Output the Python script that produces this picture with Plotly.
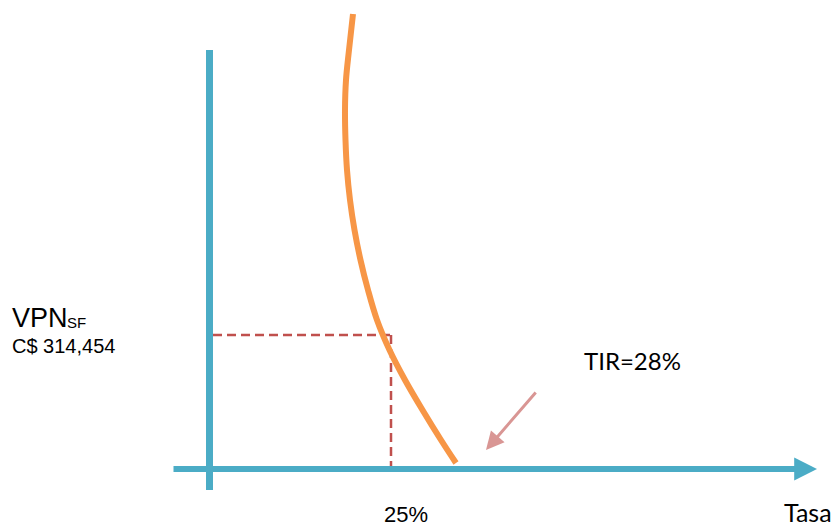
import plotly.graph_objects as go

# Data (units: offset from the axes origin)
curve_x = [144, 140, 137, 136, 136.5, 138, 141, 145.5, 151.5, 159, 168, 180.5, 196, 213.5, 232, 247]
curve_y = [455, 419, 389, 359, 329, 299, 269, 239, 209, 179, 149, 119, 89, 59, 29, 6]

rate_25 = 182       # position of 25% on the rate axis
vpn_level = 134     # VPN_SF level (C$ 314,454)
dash_start = 4

yaxis_x = [0.5, 0.5]
yaxis_y = [419, -21]
xaxis_start = -37
xaxis_tip = 608

tir_arrow_tail = (328, 78)
tir_arrow_tip = (277, 19)

labels = {
    "vpn": "VPN",
    "sf": "SF",
    "amount": "C$ 314,454",
    "tir": "TIR=28%",
    "rate": "25%",
    "tasa": "Tasa",
}

TEAL = "#4bacc6"
ORANGE = "#f79646"
RED = "#c0504d"
PINK = "#d99694"

fig = go.Figure()

# vertical axis
fig.add_trace(go.Scatter(x=yaxis_x, y=yaxis_y, mode="lines",
                         line=dict(color=TEAL, width=7), hoverinfo="skip"))

# dashed guides
fig.add_trace(go.Scatter(x=[dash_start, rate_25], y=[vpn_level, vpn_level], mode="lines",
                         line=dict(color=RED, width=2.5, dash="9px,5px"), hoverinfo="skip"))
fig.add_trace(go.Scatter(x=[rate_25, rate_25], y=[vpn_level, 2], mode="lines",
                         line=dict(color=RED, width=2.5, dash="9px,5px"), hoverinfo="skip"))

# VPN curve
fig.add_trace(go.Scatter(x=curve_x, y=curve_y, mode="lines",
                         line=dict(color=ORANGE, width=6, shape="spline", smoothing=1.0),
                         hoverinfo="skip"))

# horizontal axis with arrow
fig.add_annotation(x=xaxis_tip, y=0, ax=xaxis_start, ay=0, xref="x", yref="y",
                   axref="x", ayref="y", text="", showarrow=True, arrowhead=2,
                   arrowsize=0.76, arrowwidth=6, arrowcolor=TEAL)

# TIR arrow
fig.add_annotation(x=tir_arrow_tip[0], y=tir_arrow_tip[1], ax=tir_arrow_tail[0],
                   ay=tir_arrow_tail[1], xref="x", yref="y", axref="x", ayref="y",
                   text="", showarrow=True, arrowhead=2, arrowsize=1.2,
                   arrowwidth=3, arrowcolor=PINK)

arial = "Liberation Sans, Arial, sans-serif"
calib = "Lato, Carlito, Calibri, sans-serif"

fig.add_annotation(x=-199, y=151, text=labels["vpn"], showarrow=False, xanchor="left",
                   yanchor="middle", font=dict(family=arial, size=27, color="black"))
fig.add_annotation(x=-144, y=147, text=labels["sf"], showarrow=False, xanchor="left",
                   yanchor="middle", font=dict(family=arial, size=15, color="black"))
fig.add_annotation(x=-199, y=123, text=labels["amount"], showarrow=False, xanchor="left",
                   yanchor="middle", font=dict(family=arial, size=20, color="black"))
fig.add_annotation(x=423, y=109, text=labels["tir"], showarrow=False, xanchor="center",
                   yanchor="middle", font=dict(family=calib, size=24, color="black"))
fig.add_annotation(x=197, y=-45, text=labels["rate"], showarrow=False, xanchor="center",
                   yanchor="middle", font=dict(family=arial, size=22, color="black"))
fig.add_annotation(x=599, y=-43, text=labels["tasa"], showarrow=False, xanchor="center",
                   yanchor="middle", font=dict(family=calib, size=25, color="black"))

# the page places the figure 8px in from the top-left corner; ranges compensate
fig.update_layout(
    width=840, height=525,
    margin=dict(l=0, r=0, t=0, b=0),
    paper_bgcolor="white", plot_bgcolor="white",
    showlegend=False,
    xaxis=dict(range=[-201, 639], visible=False, fixedrange=True),
    yaxis=dict(range=[-64, 461], visible=False, fixedrange=True),
)

fig.write_html("out.html")
